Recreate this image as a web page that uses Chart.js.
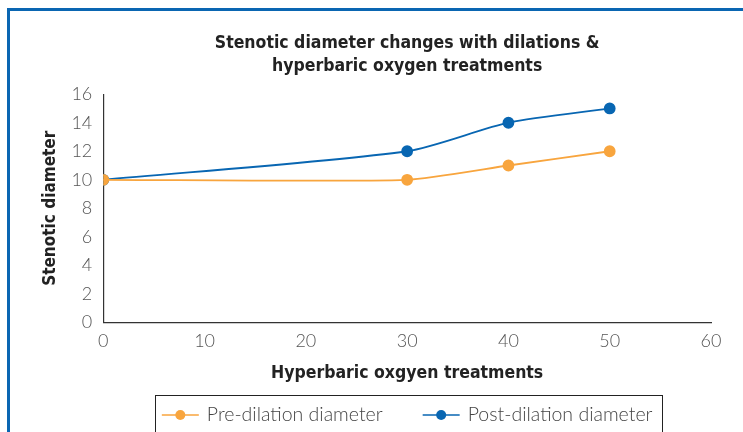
<!DOCTYPE html>
<html>
<head>
<meta charset="utf-8">
<script src="https://cdn.jsdelivr.net/npm/chart.js"></script>
<style>
  html, body { margin: 0; padding: 0; background: #fff; }
  #wrap { position: relative; width: 743px; height: 432px; overflow: hidden; }
  #frame {
    position: absolute; left: 7px; top: 8px; width: 800px; height: 500px;
    border-top: 3px solid #0a66b2; border-left: 3px solid #0a66b2;
    box-sizing: border-box;
  }
  canvas { position: absolute; left: 0; top: 0; }
</style>
</head>
<body>
<div id="wrap">
  <div id="frame"></div>
  <canvas id="chart" width="743" height="432"></canvas>
</div>
<script>
const treatments = [0, 30, 40, 50];
const preDilation = [10, 10, 11, 12];
const postDilation = [10, 12, 14, 15];
const seriesNames = ['Pre-dilation diameter', 'Post-dilation diameter'];
const seriesColors = ['#f8a53e', '#0866b2'];

const condensed = '"DejaVu Sans Condensed", "DejaVu Sans", sans-serif';
const light = 'Lato, "Open Sans", sans-serif';

// legend drawn by hand: line+dot symbol, boxed, cut off by the bottom edge
const boxedLegend = {
  id: 'boxedLegend',
  afterDraw(chart) {
    const ctx = chart.ctx;
    const area = chart.chartArea;
    const symW = 37, gap = 8, itemGap = 40, padL = 7, padR = 9;
    ctx.save();
    ctx.font = '300 19.5px ' + light;
    const items = chart.data.datasets.map(ds => ({
      text: ds.label,
      color: ds.borderColor,
      w: symW + gap + ctx.measureText(ds.label).width
    }));
    const total = items.reduce((s, it) => s + it.w, 0) + itemGap * (items.length - 1);
    const cy = chart.height - 17;
    let x = (area.left + area.right) / 2 - total / 2;
    ctx.strokeStyle = '#222';
    ctx.lineWidth = 1;
    ctx.strokeRect(Math.round(x - padL) + 0.5, Math.round(cy - 20) + 0.5, Math.round(total + padL + padR), 60);
    ctx.textBaseline = 'middle';
    items.forEach(it => {
      ctx.strokeStyle = it.color;
      ctx.lineWidth = 1.5;
      ctx.beginPath(); ctx.moveTo(x, cy); ctx.lineTo(x + symW, cy); ctx.stroke();
      ctx.fillStyle = it.color;
      ctx.beginPath(); ctx.arc(x + symW / 2, cy, 5, 0, Math.PI * 2); ctx.fill();
      ctx.fillStyle = '#444';
      ctx.fillText(it.text, x + symW + gap, cy);
      x += it.w + itemGap;
    });
    ctx.restore();
  }
};

function toPoints(ys) {
  return treatments.map((x, i) => ({ x: x, y: ys[i] }));
}

new Chart(document.getElementById('chart'), {
  type: 'line',
  data: {
    datasets: [
      {
        label: seriesNames[0],
        data: toPoints(preDilation),
        borderColor: seriesColors[0],
        backgroundColor: seriesColors[0],
        borderWidth: 1.8,
        pointRadius: 5,
        pointHoverRadius: 5,
        tension: 0.2
      },
      {
        label: seriesNames[1],
        data: toPoints(postDilation),
        borderColor: seriesColors[1],
        backgroundColor: seriesColors[1],
        borderWidth: 1.8,
        pointRadius: 5,
        pointHoverRadius: 5,
        tension: 0.25
      }
    ]
  },
  options: {
    responsive: false,
    animation: false,
    layout: { padding: { left: 40, right: 32, top: 0, bottom: 48 } },
    plugins: {
      title: {
        display: true,
        fullSize: false,
        text: ['Stenotic diameter changes with dilations &', 'hyperbaric oxygen treatments'],
        color: '#222',
        font: { family: condensed, size: 17.5, weight: 'bold', lineHeight: 1.32 },
        padding: { top: 32, bottom: 16 }
      },
      legend: { display: false },
      tooltip: { enabled: false }
    },
    scales: {
      x: {
        type: 'linear',
        min: 0,
        max: 60,
        ticks: { stepSize: 10, color: '#555', font: { family: light, size: 18, weight: '300' }, padding: 8 },
        grid: { display: false, drawTicks: false },
        border: { color: '#333', width: 1.2 },
        title: {
          display: true,
          text: 'Hyperbaric oxgyen treatments',
          color: '#222',
          font: { family: condensed, size: 17.5, weight: 'bold' },
          padding: { top: 3, bottom: 0 }
        }
      },
      y: {
        min: 0,
        max: 16,
        ticks: { stepSize: 2, color: '#555', font: { family: light, size: 18, weight: '300' }, padding: 11 },
        grid: { display: false, drawTicks: false },
        border: { color: '#333', width: 1.2 },
        title: {
          display: true,
          text: 'Stenotic diameter',
          color: '#222',
          font: { family: condensed, size: 17, weight: 'bold' },
          padding: { top: 0, bottom: 0 }
        }
      }
    }
  },
  plugins: [boxedLegend]
});
</script>
</body>
</html>
